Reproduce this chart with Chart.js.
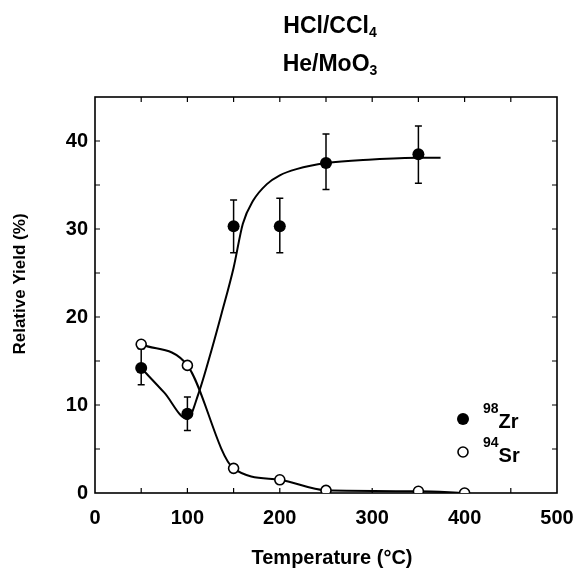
<!DOCTYPE html>
<html>
<head>
<meta charset="utf-8">
<script src="https://cdn.jsdelivr.net/npm/chart.js@4.4.1/dist/chart.umd.min.js"></script>
<style>
html, body { margin: 0; padding: 0; background: #fff; }
#wrap { width: 577px; height: 572px; }
</style>
</head>
<body>
<div id="wrap"><canvas id="yieldChart" width="577" height="572"></canvas></div>
<script>
// Zr yields with error bars
const zrTemps = [50, 100, 150, 200, 250, 350];
const zrYield = [14.2, 9.0, 30.3, 30.3, 37.5, 38.5];
const zrLow = [12.3, 7.1, 27.3, 27.3, 34.5, 35.2];
const zrHigh = [16.4, 10.9, 33.3, 33.5, 40.8, 41.7];

// Sr yields
const srTemps = [50, 100, 150, 200, 250, 350, 400];
const srYield = [16.9, 14.5, 2.8, 1.5, 0.3, 0.2, 0.0];

// hand drawn curve for Zr
const fitTemps = [50, 75, 100, 112, 126, 137, 150, 160, 171, 186, 200, 218, 250, 300, 350, 374];
const fitYield = [14.2, 11.4, 8.4, 11.3, 16.2, 20.4, 25.6, 30.6, 33.2, 35.1, 36.1, 36.8, 37.5, 37.9, 38.1, 38.1];

// axis ticks
const xTicks = [0, 100, 200, 300, 400, 500];
const yTicks = [0, 10, 20, 30, 40];

const FONT = '"Liberation Sans", Arial, Helvetica, sans-serif';

function toPoints(xs, ys) {
    return xs.map((x, i) => ({ x: x, y: ys[i] }));
}

// text with a subscripted or superscripted part
function drawParts(ctx, parts, x, baseline, align) {
    let total = 0;
    parts.forEach(p => {
        ctx.font = 'bold ' + p.size + 'px ' + FONT;
        p.w = ctx.measureText(p.text).width;
        total += p.w;
    });
    let cx = align === 'center' ? x - total / 2 : x;
    ctx.textAlign = 'left';
    ctx.textBaseline = 'alphabetic';
    parts.forEach(p => {
        ctx.font = 'bold ' + p.size + 'px ' + FONT;
        ctx.fillText(p.text, cx, baseline + (p.dy || 0));
        cx += p.w;
    });
}

const framePlugin = {
    id: 'frame',
    beforeDatasetsDraw(chart) {
        const { ctx, chartArea: a, scales: { x, y } } = chart;
        ctx.save();
        ctx.strokeStyle = '#000';
        ctx.lineWidth = 1.6;
        ctx.strokeRect(a.left, a.top, a.right - a.left, a.bottom - a.top);

        // inward ticks on all four sides
        ctx.lineWidth = 1.2;
        ctx.beginPath();
        for (let v = 50; v < 500; v += 50) {
            const px = x.getPixelForValue(v);
            ctx.moveTo(px, a.bottom); ctx.lineTo(px, a.bottom - 5);
            ctx.moveTo(px, a.top); ctx.lineTo(px, a.top + 5);
        }
        for (let v = 5; v < 45; v += 5) {
            const py = y.getPixelForValue(v);
            ctx.moveTo(a.left, py); ctx.lineTo(a.left + 5, py);
            ctx.moveTo(a.right, py); ctx.lineTo(a.right - 5, py);
        }
        ctx.stroke();

        // error bars for Zr
        ctx.lineWidth = 1.5;
        ctx.beginPath();
        zrTemps.forEach((t, i) => {
            const px = x.getPixelForValue(t);
            const lo = y.getPixelForValue(zrLow[i]);
            const hi = y.getPixelForValue(zrHigh[i]);
            ctx.moveTo(px, lo); ctx.lineTo(px, hi);
            ctx.moveTo(px - 3.5, lo); ctx.lineTo(px + 3.5, lo);
            ctx.moveTo(px - 3.5, hi); ctx.lineTo(px + 3.5, hi);
        });
        ctx.stroke();
        ctx.restore();
    },
    afterDraw(chart) {
        const { ctx, chartArea: a } = chart;
        const mid = (a.left + a.right) / 2;
        ctx.save();
        ctx.fillStyle = '#000';

        // title
        drawParts(ctx, [{ text: 'HCl/CCl', size: 23 }, { text: '4', size: 14, dy: 4 }], mid + 4, a.top - 64, 'center');
        drawParts(ctx, [{ text: 'He/MoO', size: 23 }, { text: '3', size: 14, dy: 4 }], mid + 4, a.top - 26, 'center');

        // axis titles
        ctx.font = 'bold 20px ' + FONT;
        ctx.textAlign = 'center';
        ctx.textBaseline = 'middle';
        ctx.fillText('Temperature (\u00B0C)', mid + 6, 558);

        ctx.save();
        ctx.translate(20, 284);
        ctx.rotate(-Math.PI / 2);
        ctx.font = 'bold 17px ' + FONT;
        ctx.fillText('Relative Yield (%)', 0, 0);
        ctx.restore();

        // legend
        const lx = 463;
        ctx.beginPath();
        ctx.arc(lx, 419, 6, 0, Math.PI * 2);
        ctx.fill();
        ctx.beginPath();
        ctx.arc(lx, 452, 5, 0, Math.PI * 2);
        ctx.lineWidth = 1.6;
        ctx.strokeStyle = '#000';
        ctx.stroke();
        drawParts(ctx, [{ text: '98', size: 14, dy: -15 }, { text: 'Zr', size: 20 }], 483, 428, 'left');
        drawParts(ctx, [{ text: '94', size: 14, dy: -15 }, { text: 'Sr', size: 20 }], 483, 462, 'left');
        ctx.restore();
    }
};

function createChart() {
    const ctx = document.getElementById('yieldChart').getContext('2d');
    return new Chart(ctx, {
        type: 'scatter',
        data: {
            datasets: [
                {
                    label: '98Zr',
                    data: toPoints(zrTemps, zrYield),
                    showLine: false,
                    pointRadius: 6,
                    pointBackgroundColor: '#000',
                    pointBorderColor: '#000',
                    pointBorderWidth: 0
                },
                {
                    label: '94Sr',
                    data: toPoints(srTemps, srYield),
                    showLine: true,
                    borderColor: '#000',
                    borderWidth: 2,
                    cubicInterpolationMode: 'monotone',
                    pointRadius: 5,
                    pointBackgroundColor: '#fff',
                    pointBorderColor: '#000',
                    pointBorderWidth: 1.6
                },
                {
                    label: 'Zr curve',
                    data: toPoints(fitTemps, fitYield),
                    showLine: true,
                    borderColor: '#000',
                    borderWidth: 2,
                    cubicInterpolationMode: 'monotone',
                    pointRadius: 0
                }
            ]
        },
        options: {
            responsive: false,
            animation: false,
            layout: { padding: { top: 97, right: 20, left: 0, bottom: 0 } },
            scales: {
                x: {
                    type: 'linear',
                    min: 0,
                    max: 500,
                    afterBuildTicks: s => { s.ticks = xTicks.map(v => ({ value: v })); },
                    afterFit: s => { s.height = 79; s.paddingLeft = 0; s.paddingRight = 0; },
                    grid: { display: false, drawTicks: false },
                    border: { display: false },
                    ticks: { color: '#000', padding: 13, font: { family: FONT, size: 20, weight: 'bold' } }
                },
                y: {
                    type: 'linear',
                    min: 0,
                    max: 45,
                    afterBuildTicks: s => { s.ticks = yTicks.map(v => ({ value: v })); },
                    afterFit: s => { s.width = 95; s.paddingTop = 0; s.paddingBottom = 0; },
                    grid: { display: false, drawTicks: false },
                    border: { display: false },
                    ticks: { color: '#000', padding: 7, font: { family: FONT, size: 20, weight: 'bold' } }
                }
            },
            plugins: {
                legend: { display: false },
                tooltip: { enabled: false }
            }
        },
        plugins: [framePlugin]
    });
}

createChart();
</script>
</body>
</html>
